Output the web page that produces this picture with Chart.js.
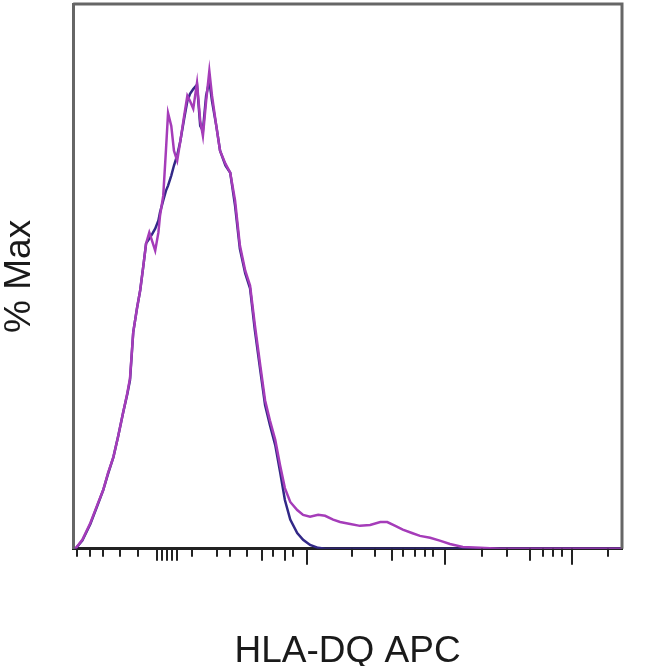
<!DOCTYPE html>
<html>
<head>
<meta charset="utf-8">
<script src="https://cdn.jsdelivr.net/npm/chart.js@4"></script>
<style>
    html, body { margin: 0; padding: 0; background: #fff; }
</style>
</head>
<body>
<canvas id="myChart" width="650" height="666"></canvas>
<script>
// channel (display) positions on the HLA-DQ APC axis
const channels = [4, 17, 32, 45, 56, 65, 75, 84, 93, 101,
    106, 112, 119, 125, 131, 136, 142, 147, 153, 159,
    162, 168, 173, 177, 183, 188, 194, 200, 207, 213,
    218, 224, 231, 237, 242, 248, 254, 259, 267, 274,
    284, 293, 302, 311, 321, 330, 339, 349, 358, 367,
    377, 386, 395, 405, 418, 429, 442, 457, 470, 485,
    498, 517, 535, 554, 573, 586, 601, 615, 632, 647,
    666, 684, 703, 727, 759, 796, 871, 946, 1024];

// % Max, HLA-DQ APC stained (purple)
const hlaDQ = [0, 1.9, 5.4, 9.2, 12.3, 15.9, 19.2, 23.6, 28.4, 32.6,
    35.7, 45.3, 50.3, 54.1, 59.3, 63.9, 66.2, 64.5, 62.4, 66.2,
    69.7, 73.9, 83.3, 91.2, 88.5, 83.3, 81.2, 85.4, 90.6, 94.8,
    93.7, 92.1, 97.5, 89.6, 86.4, 93.7, 100, 94.8, 88.5, 83.3,
    80.6, 78.7, 72.9, 63.5, 58.2, 55.1, 46.8, 38.4, 31.1, 26.9,
    22.8, 17.5, 12.7, 9.8, 8.1, 7.1, 6.7, 7.1, 6.9, 6.1,
    5.6, 5.2, 4.8, 5.0, 5.6, 5.6, 4.8, 4.0, 3.3, 2.7,
    2.3, 1.7, 1.0, 0.4, 0.2, 0, 0, 0, 0];

// % Max, isotype control (blue)
const isotype = [0, 1.7, 5.2, 9.0, 12.3, 15.7, 19.2, 23.6, 28.4, 32.4,
    35.3, 45.3, 50.3, 54.1, 59.3, 63.9, 64.9, 65.8, 67.0, 68.7,
    70.4, 72.9, 74.9, 76.0, 78.1, 80.2, 82.3, 85.4, 90.0, 93.7,
    95.2, 96.2, 97.1, 88.5, 87.5, 94.8, 97.9, 93.7, 88.5, 83.3,
    80.2, 78.7, 71.8, 62.8, 57.6, 54.5, 45.7, 37.4, 30.1, 25.9,
    21.7, 16.1, 10.2, 6.1, 3.3, 1.9, 0.8, 0.2, 0, 0,
    0, 0, 0, 0, 0, 0, 0, 0, 0, 0,
    0, 0, 0, 0, 0, 0, 0, 0, 0];

// tick marks along the bottom axis (no labels in the original)
const majorTicks = [436, 694, 931];
const midTicks = [157, 166, 175, 185, 194, 352, 395, 595, 852];
const minorTicks = [7, 32, 56, 88, 121, 222, 269, 293, 325, 373, 410, 520,
    563, 615, 638, 656, 671, 763, 809, 877, 895, 912, 998];

// frame top/right + hand-length tick marks
const frameTicks = {
    id: 'frameTicks',
    afterDraw(chart) {
        const { ctx, chartArea: a, scales: { x } } = chart;
        ctx.save();
        ctx.strokeStyle = '#666';
        ctx.lineWidth = 3;
        ctx.beginPath();
        ctx.moveTo(a.left, a.top);
        ctx.lineTo(a.right, a.top);
        ctx.lineTo(a.right, a.bottom);
        ctx.stroke();

        ctx.strokeStyle = '#222';
        ctx.lineWidth = 2;
        [[minorTicks, 8], [midTicks, 12], [majorTicks, 16]].forEach(([vals, len]) => {
            vals.forEach(v => {
                const px = Math.round(x.getPixelForValue(v));
                ctx.beginPath();
                ctx.moveTo(px, a.bottom);
                ctx.lineTo(px, a.bottom + len);
                ctx.stroke();
            });
        });
        ctx.restore();
    }
};

const titleFont = { family: "'Liberation Sans', Arial, sans-serif", size: 37, lineHeight: 0.6 };

new Chart(document.getElementById('myChart').getContext('2d'), {
    type: 'line',
    data: {
        datasets: [{
            label: 'HLA-DQ APC',
            data: channels.map((c, i) => ({ x: c, y: hlaDQ[i] })),
            borderColor: 'rgb(165, 60, 185)',
            borderWidth: 2.5,
            pointRadius: 0,
            tension: 0,
            fill: false
        }, {
            label: 'Isotype',
            data: channels.map((c, i) => ({ x: c, y: isotype[i] })),
            borderColor: 'rgb(50, 40, 135)',
            borderWidth: 2.5,
            pointRadius: 0,
            tension: 0,
            fill: false
        }]
    },
    options: {
        responsive: false,
        animation: false,
        devicePixelRatio: 1,
        layout: { padding: { left: 0, right: 28, top: 4, bottom: 3 } },
        plugins: {
            legend: { display: false },
            tooltip: { enabled: false }
        },
        scales: {
            x: {
                type: 'linear',
                min: 0,
                max: 1024,
                grid: { display: false, drawTicks: false },
                border: { display: true, color: '#222', width: 3 },
                ticks: { display: false },
                title: {
                    display: true,
                    text: 'HLA-DQ APC',
                    color: '#1a1a1a',
                    font: titleFont,
                    padding: { top: 92, bottom: 0 }
                }
            },
            y: {
                min: 0,
                max: 114,
                grid: { display: false, drawTicks: false },
                border: { display: true, color: '#666', width: 3 },
                ticks: { display: false },
                title: {
                    display: true,
                    text: '% Max',
                    color: '#1a1a1a',
                    font: titleFont,
                    padding: { top: 9, bottom: 42 }
                }
            }
        }
    },
    plugins: [frameTicks]
});
</script>
</body>
</html>
